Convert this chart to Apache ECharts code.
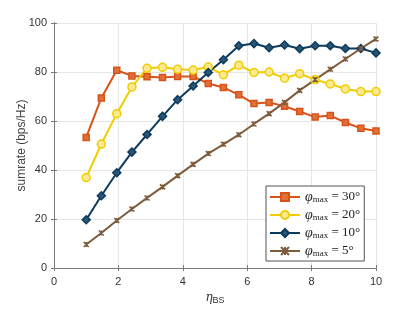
<!DOCTYPE html>
<html><head><meta charset="utf-8">
<script src="https://cdn.jsdelivr.net/npm/echarts@6/dist/echarts.min.js"></script>
<style>html,body{margin:0;padding:0;background:#fff}#c{width:415px;height:312px}</style>
</head><body><div id="c"></div>
<script>
var etaBS = [1, 1.47, 1.95, 2.42, 2.89, 3.37, 3.84, 4.32, 4.79, 5.26, 5.74, 6.21, 6.68, 7.16, 7.63, 8.11, 8.58, 9.05, 9.53, 10];
var phi30 = [53.3, 69.4, 80.7, 78.4, 78.1, 77.8, 78.2, 78.2, 75.3, 73.7, 70.7, 67.1, 67.6, 66.0, 63.9, 61.6, 62.2, 59.4, 57.0, 55.9];
var phi20 = [36.9, 50.6, 63.0, 73.9, 81.5, 81.9, 81.1, 80.8, 82.0, 78.9, 82.8, 79.8, 80.0, 77.5, 79.3, 76.9, 75.1, 73.1, 72.0, 72.0];
var phi10 = [19.7, 29.5, 38.9, 47.3, 54.5, 61.9, 68.7, 74.3, 79.8, 85.0, 90.7, 91.6, 89.9, 91.0, 89.5, 90.7, 90.7, 89.6, 89.6, 87.8];
var phi5  = [9.6, 14.3, 19.4, 24.1, 28.6, 33.1, 37.7, 42.3, 46.7, 50.5, 54.4, 58.8, 63.0, 67.6, 72.5, 76.9, 81.1, 85.3, 89.6, 93.5];
var seriesNames = ['30°', '20°', '10°', '5°'];
var xTicks = [0, 2, 4, 6, 8, 10];
var yTicks = [0, 20, 40, 60, 80, 100];

function pairs(ys){ return ys.map(function(v,i){ return [etaBS[i], v]; }); }
var axisCol = '#7a7a7a';
var chart = echarts.init(document.getElementById('c'), null, {renderer:'canvas'});
var mk = function(name, data, color, symbol, size, fill){
  return {
    name: name, type: 'line', data: pairs(data), symbol: symbol, symbolSize: size,
    showAllSymbol: true,
    lineStyle: {color: color, width: 2},
    itemStyle: {color: fill, borderColor: color, borderWidth: 1.5},
    emphasis: {disabled: true}, animation: false, z: 5
  };
};
chart.setOption({
  animation: false,
  grid: {left: 54, right: 39, top: 23, bottom: 44, show: false},
  xAxis: [{
    type: 'value', min: 0, max: 10, interval: 2, position: 'bottom',
    axisLine: {show: true, lineStyle: {color: axisCol, width: 1}},
    axisTick: {show: true, inside: true, length: 3, lineStyle: {color: axisCol}},
    axisLabel: {color: '#333', fontFamily: 'Liberation Sans, Arial', fontSize: 11, margin: 8,
      formatter: function(v){ return xTicks.indexOf(v) >= 0 ? String(v) : ''; }},
    splitLine: {show: true, lineStyle: {color: '#e6e6e6', width: 1}},
    name: '{a|η}{b|BS}', nameLocation: 'middle', nameGap: 22, nameMoveOverlap: false,
    nameTextStyle: {rich: {
      a: {fontFamily: 'DejaVu Serif', fontStyle: 'italic', fontSize: 12, color: '#333'},
      b: {fontFamily: 'Liberation Sans', fontSize: 9, color: '#333', padding: [6, 0, 0, 0]}
    }}
  }, {
    type: 'value', min: 0, max: 10, interval: 2, position: 'top',
    axisLine: {show: true, lineStyle: {color: axisCol, width: 1}},
    axisTick: {show: true, inside: true, length: 3, lineStyle: {color: axisCol}},
    axisLabel: {show: false}, splitLine: {show: false}
  }],
  yAxis: [{
    type: 'value', min: 0, max: 100, interval: 20, position: 'left',
    axisLine: {show: true, lineStyle: {color: axisCol, width: 1}},
    axisTick: {show: true, inside: true, length: 3, lineStyle: {color: axisCol}},
    axisLabel: {color: '#333', fontFamily: 'Liberation Sans, Arial', fontSize: 11, margin: 7,
      formatter: function(v){ return yTicks.indexOf(v) >= 0 ? String(v) : ''; }},
    splitLine: {show: true, lineStyle: {color: '#e6e6e6', width: 1}},
    name: 'sumrate (bps/Hz)', nameLocation: 'middle', nameGap: 26, nameMoveOverlap: false,
    nameTextStyle: {fontFamily: 'Liberation Sans, Arial', fontSize: 12, color: '#444'}
  }, {
    type: 'value', min: 0, max: 100, interval: 20, position: 'right',
    axisLine: {show: true, lineStyle: {color: axisCol, width: 1}},
    axisTick: {show: true, inside: true, length: 3, lineStyle: {color: axisCol}},
    axisLabel: {show: false}, splitLine: {show: false}
  }],
  legend: {
    left: 266, top: 186, orient: 'vertical',
    backgroundColor: '#fff', borderColor: '#555', borderWidth: 1,
    padding: [4, 4, 3, 3], itemGap: 4, itemWidth: 30, itemHeight: 10,
    data: seriesNames,
    formatter: function(n){ return '{a|φ}{b|max}{c| = ' + n + '}'; },
    textStyle: {rich: {
      a: {fontFamily: 'Liberation Serif', fontStyle: 'italic', fontSize: 14, color: '#222'},
      b: {fontFamily: 'Liberation Serif', fontSize: 9, color: '#222', padding: [5, 0, 0, 0]},
      c: {fontFamily: 'Liberation Serif', fontSize: 13, color: '#222'}
    }}
  },
  series: [
    mk(seriesNames[0], phi30, '#D95319', 'rect', 6, '#E0703A'),
    mk(seriesNames[1], phi20, '#F2CC00', 'circle', 8, '#FBEA90'),
    mk(seriesNames[2], phi10, '#0D3B5C', 'diamond', 8, '#2A5575'),
    mk(seriesNames[3], phi5, '#7E5C3C', 'path://M0,0L10,10M10,0L0,10M5,0L5,10', 5, '#7E5C3C')
  ]
});
</script></body></html>
